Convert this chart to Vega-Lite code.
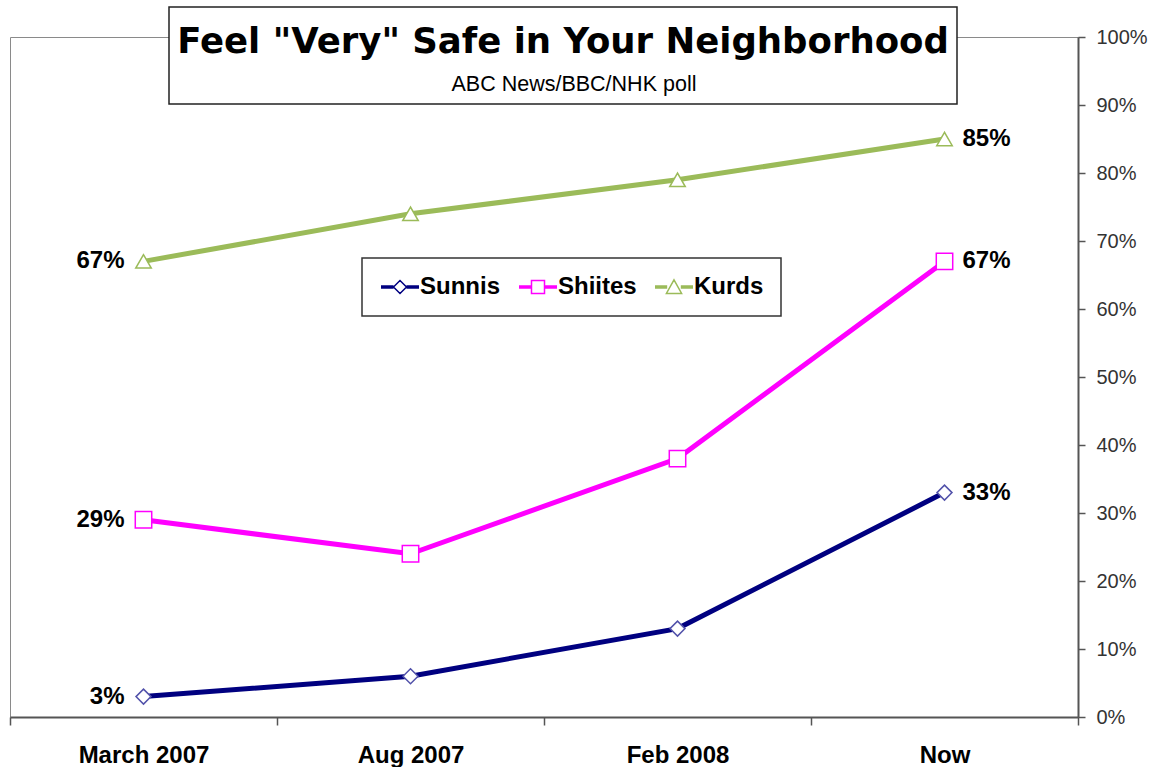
{
  "$schema": "https://vega.github.io/schema/vega-lite/v6.json",
  "width": 1068,
  "height": 680,
  "autosize": {"type": "none"},
  "padding": {"left": 10, "top": 37, "right": 73, "bottom": 50},
  "background": "white",
  "config": {
    "view": {"stroke": "#8a8a8a", "strokeWidth": 1},
    "font": "Liberation Sans"
  },
  "data": {
    "values": [
      {"period": "March 2007", "series": "Sunnis", "value": 0.03},
      {"period": "Aug 2007", "series": "Sunnis", "value": 0.06},
      {"period": "Feb 2008", "series": "Sunnis", "value": 0.13},
      {"period": "Now", "series": "Sunnis", "value": 0.33},
      {"period": "March 2007", "series": "Shiites", "value": 0.29},
      {"period": "Aug 2007", "series": "Shiites", "value": 0.24},
      {"period": "Feb 2008", "series": "Shiites", "value": 0.38},
      {"period": "Now", "series": "Shiites", "value": 0.67},
      {"period": "March 2007", "series": "Kurds", "value": 0.67},
      {"period": "Aug 2007", "series": "Kurds", "value": 0.74},
      {"period": "Feb 2008", "series": "Kurds", "value": 0.79},
      {"period": "Now", "series": "Kurds", "value": 0.85}
    ]
  },
  "encoding": {
    "x": {
      "field": "period",
      "type": "nominal",
      "sort": ["March 2007", "Aug 2007", "Feb 2008", "Now"],
      "bandPosition": 0.5,
      "scale": {"type": "band", "paddingInner": 0, "paddingOuter": 0},
      "axis": {
        "title": null,
        "labelAngle": 0,
        "labelFont": "Liberation Sans",
        "labelFontSize": 24,
        "labelFontWeight": "bold",
        "labelColor": "black",
        "labelPadding": 18,
        "tickBand": "extent",
        "tickSize": 8,
        "tickColor": "#555555",
        "tickWidth": 1.5,
        "domainColor": "#555555",
        "domainWidth": 2,
        "grid": false
      }
    },
    "y": {
      "field": "value",
      "type": "quantitative",
      "scale": {"domain": [0, 1], "nice": false},
      "axis": {
        "orient": "right",
        "title": null,
        "values": [0, 0.1, 0.2, 0.3, 0.4, 0.5, 0.6, 0.7, 0.8, 0.9, 1],
        "format": ".0%",
        "labelFont": "Liberation Sans",
        "labelFontSize": 20,
        "labelColor": "#333333",
        "labelPadding": 11,
        "tickSize": 7,
        "tickColor": "#555555",
        "tickWidth": 1.5,
        "domainColor": "#555555",
        "domainWidth": 2,
        "grid": false
      }
    }
  },
  "layer": [
    {
      "mark": {"type": "line", "strokeWidth": 5},
      "encoding": {
        "color": {
          "field": "series",
          "type": "nominal",
          "scale": {"domain": ["Sunnis", "Shiites", "Kurds"], "range": ["#000080", "#ff00ff", "#9bbb59"]},
          "legend": {
            "title": null,
            "orient": "none",
            "direction": "horizontal",
            "legendX": 352,
            "legendY": 221,
            "padding": 17,
            "fillColor": "white",
            "strokeColor": "#333333",
            "symbolSize": 400,
            "symbolOffset": 9,
            "symbolStrokeWidth": 1.5,
            "symbolFillColor": "white",
            "labelFont": "Liberation Sans",
            "labelFontSize": 24,
            "labelFontWeight": "bold",
            "labelColor": "black",
            "labelOffset": 8,
            "columnPadding": 15,
            "labelLimit": 300,
            "encoding": {
              "legend": {"strokeWidth": {"value": 1.5}},
              "symbols": {
                "fill": {"value": "white"},
                "strokeWidth": {"value": 1.5},
                "size": {"value": 400},
                "opacity": {"value": 1},
                "shape": {"value": {"expr": "datum.value === 'Sunnis' ? 'M-1.9,-0.11H-0.65M-1.9,0H-0.65M-1.9,0.11H-0.65M0.65,-0.11H1.9M0.65,0H1.9M0.65,0.11H1.9M-0.65,0L0,-0.65L0.65,0L0,0.65Z' : datum.value === 'Shiites' ? 'M-1.9,-0.11H-0.65M-1.9,0H-0.65M-1.9,0.11H-0.65M0.65,-0.11H1.9M0.65,0H1.9M0.65,0.11H1.9M-0.65,-0.65H0.65V0.65H-0.65Z' : 'M-1.9,-0.11H-0.68M-1.9,0H-0.68M-1.9,0.11H-0.68M0.68,-0.11H1.9M0.68,0H1.9M0.68,0.11H1.9M0,-0.72L0.76,0.65H-0.76Z'"}},
                "stroke": {"value": {"expr": "datum.value === 'Sunnis' ? '#000080' : datum.value === 'Shiites' ? '#ff00ff' : '#9bbb59'"}}
              }
            }
          }
        }
      }
    },
    {
      "transform": [{"filter": "datum.series === 'Sunnis'"}],
      "mark": {"type": "point", "shape": "diamond", "filled": true, "fill": "white", "stroke": "#5252aa", "strokeWidth": 1.5, "opacity": 1, "size": 225}
    },
    {
      "transform": [{"filter": "datum.series === 'Shiites'"}],
      "mark": {"type": "point", "shape": "square", "filled": true, "fill": "white", "stroke": "#ff00ff", "strokeWidth": 1.5, "opacity": 1, "size": 270}
    },
    {
      "transform": [{"filter": "datum.series === 'Kurds'"}],
      "mark": {"type": "point", "shape": "triangle-up", "filled": true, "fill": "white", "stroke": "#9bbb59", "strokeWidth": 1.5, "opacity": 1, "size": 240}
    },
    {
      "transform": [{"filter": "datum.period === 'March 2007'"}],
      "mark": {"type": "text", "align": "right", "baseline": "middle", "dx": -19, "font": "Liberation Sans", "fontSize": 24, "fontWeight": "bold", "color": "black"},
      "encoding": {
        "text": {"field": "value", "type": "quantitative", "format": ".0%"},
        "opacity": {
          "datum": "ABC News/BBC/NHK poll",
          "type": "nominal",
          "scale": {"range": [1]},
          "legend": {
            "title": "Feel \"Very\" Safe in Your Neighborhood",
            "orient": "none",
            "legendX": 159,
            "legendY": -30,
            "padding": 8,
            "fillColor": "white",
            "strokeColor": "#222222",
            "titleFont": "DejaVu Sans",
            "titleFontSize": 35.5,
            "titleFontWeight": "bold",
            "titleColor": "black",
            "titleAnchor": "middle",
            "titleLimit": 1000,
            "titlePadding": 24,
            "labelFont": "Liberation Sans",
            "labelFontSize": 21.5,
            "labelColor": "black",
            "labelAlign": "left",
            "labelOffset": 0,
            "labelLimit": 600,
            "symbolSize": 0,
            "symbolOpacity": 0,
            "encoding": {
              "legend": {"strokeWidth": {"value": 1.5}},
              "title": {"dy": {"value": 10}}
            }
          }
        }
      }
    },
    {
      "transform": [{"filter": "datum.period === 'Now'"}],
      "mark": {"type": "text", "align": "left", "baseline": "middle", "dx": 18, "font": "Liberation Sans", "fontSize": 24, "fontWeight": "bold", "color": "black"},
      "encoding": {
        "text": {"field": "value", "type": "quantitative", "format": ".0%"}
      }
    }
  ]
}
